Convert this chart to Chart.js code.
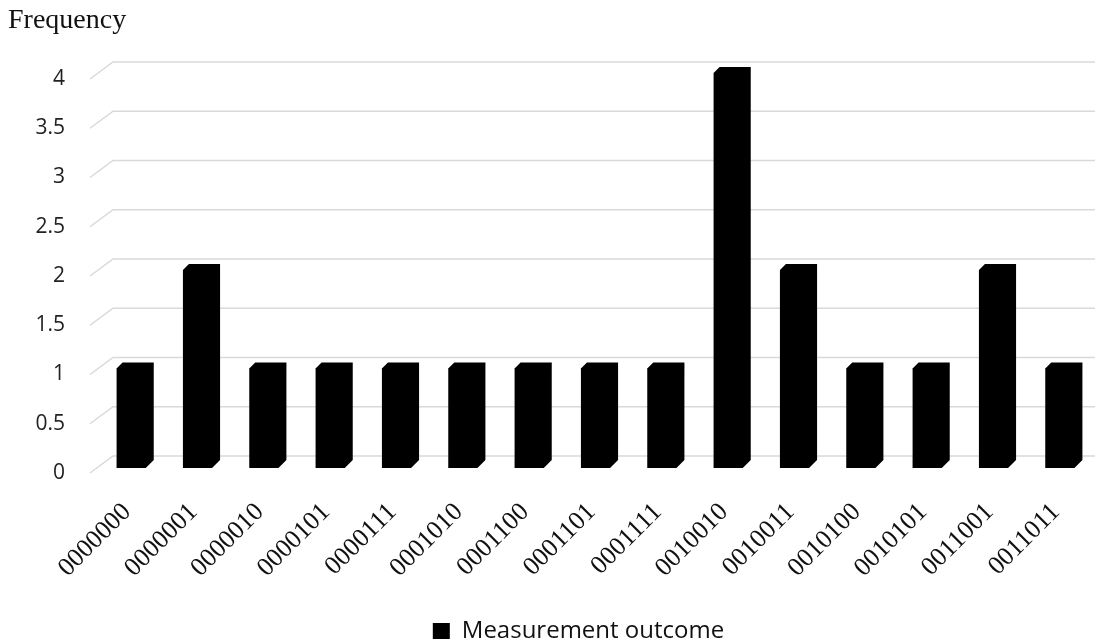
<!DOCTYPE html>
<html>
<head>
<meta charset="utf-8">
<script src="https://cdn.jsdelivr.net/npm/chart.js@4"></script>
<style>
  html, body { margin: 0; padding: 0; background: #fff; }
  #wrap { width: 1100px; height: 641px; }
</style>
</head>
<body>
<div id="wrap"><canvas id="freqChart"></canvas></div>
<script>
// measurement outcomes and how often each one came up
const outcomes = ["0000000", "0000001", "0000010", "0000101", "0000111", "0001010", "0001100",
  "0001101", "0001111", "0010010", "0010011", "0010100", "0010101", "0011001", "0011011"];
const counts = [1, 2, 1, 1, 1, 1, 1, 1, 1, 4, 2, 1, 1, 2, 1];
const yTicks = [0, 0.5, 1, 1.5, 2, 2.5, 3, 3.5, 4];

// fake 3D look: gridlines with a slanted stub on the left, bevelled bars
const DEPTH_X = 23, DEPTH_Y = 17;

const pseudo3d = {
  id: "pseudo3d",
  afterLayout(chart) {
    // let the y labels hang out to the left of the axis box without being clipped
    chart.scales.y.left = 0;
    // nudge the legend a bit lower, like in the original
    chart.legend.top += 12;
    chart.legend.bottom += 12;
  },
  beforeDatasetsDraw(chart) {
    const ctx = chart.ctx;
    const y = chart.scales.y;
    const area = chart.chartArea;
    ctx.save();
    ctx.strokeStyle = "#d9d9d9";
    ctx.lineWidth = 1.5;
    yTicks.forEach(v => {
      const py = y.getPixelForValue(v);
      ctx.beginPath();
      ctx.moveTo(area.left + 11 - DEPTH_X, py + DEPTH_Y);
      ctx.lineTo(area.left + 11, py);
      ctx.lineTo(area.right - 2, py);
      ctx.stroke();
    });

    const meta = chart.getDatasetMeta(0);
    ctx.fillStyle = "#000";
    meta.data.forEach(bar => {
      const l = bar.x - bar.width / 2;
      const r = bar.x + bar.width / 2;
      const t = bar.y + 5;
      const b = bar.base + 12;
      ctx.beginPath();
      ctx.moveTo(l + 6, t);
      ctx.lineTo(r, t);
      ctx.lineTo(r, b - 8);
      ctx.lineTo(r - 8, b);
      ctx.lineTo(l, b);
      ctx.lineTo(l, t + 6);
      ctx.closePath();
      ctx.fill();
    });
    ctx.restore();
    return false;
  },
  afterDraw(chart) {
    const ctx = chart.ctx;
    ctx.save();
    ctx.fillStyle = "#111";
    ctx.font = "28px 'Liberation Serif'";
    ctx.textBaseline = "alphabetic";
    ctx.fillText("Frequency", 8, 28);
    ctx.restore();
  }
};

new Chart(document.getElementById("freqChart"), {
  type: "bar",
  data: {
    labels: outcomes,
    datasets: [{
      label: "Measurement outcome",
      data: counts,
      backgroundColor: "#000",
      categoryPercentage: 1,
      barPercentage: 0.56
    }]
  },
  options: {
    responsive: true,
    maintainAspectRatio: false,
    animation: false,
    layout: { padding: { left: 60, right: 3, top: 62, bottom: 0 } },
    plugins: {
      legend: {
        display: true,
        position: "bottom",
        labels: {
          boxWidth: 17,
          boxHeight: 16,
          padding: 10,
          color: "#111",
          font: { family: "'Open Sans'", size: 24 }
        }
      },
      tooltip: { enabled: false }
    },
    scales: {
      x: {
        grid: { display: false, drawTicks: false },
        border: { display: false },
        ticks: {
          minRotation: 45,
          maxRotation: 45,
          padding: 41,
          labelOffset: -8,
          color: "#111",
          font: { family: "'Liberation Serif'", size: 26 }
        },
        afterFit: scale => {
          scale.height = 141;
          scale.paddingLeft = 0;
          scale.paddingRight = 0;
        }
      },
      y: {
        min: 0,
        max: 4,
        grid: { display: false, drawTicks: false },
        border: { display: false },
        ticks: {
          stepSize: 0.5,
          padding: 37,
          labelOffset: 17,
          color: "#222",
          font: { family: "'Open Sans'", size: 21 },
          callback: v => String(v)
        },
        afterFit: scale => { scale.width = 42; }
      }
    }
  },
  plugins: [pseudo3d]
});
</script>
</body>
</html>
